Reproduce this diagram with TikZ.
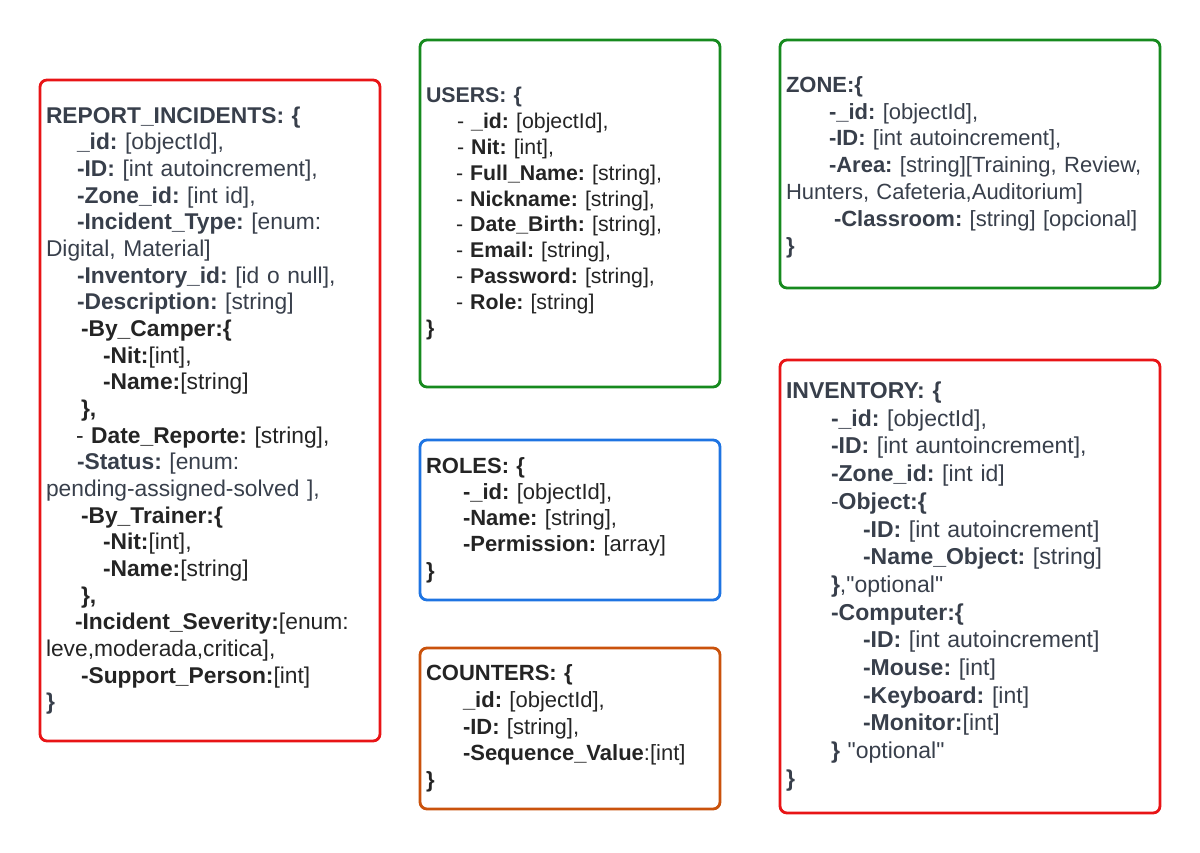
\documentclass[tikz,border=0pt]{standalone}
\usepackage{fontspec}
\setmainfont{Liberation Sans}
\frenchspacing
\definecolor{boxred}{RGB}{232,20,22}
\definecolor{boxgreen}{RGB}{22,138,30}
\definecolor{boxblue}{RGB}{30,116,226}
\definecolor{boxorange}{RGB}{202,82,12}
\definecolor{slate}{RGB}{56,63,75}
\definecolor{ink}{RGB}{36,36,36}
\begin{document}
\begin{tikzpicture}[x=1pt,y=-1pt,
  entity/.style={draw=#1,line width=2.8pt,rounded corners=7pt,align=left,
    inner xsep=6pt,inner ysep=0pt,text=slate}]
\useasboundingbox (0,0) rectangle (1200,853);
% report incidents
\node[entity=boxred,text width=328pt,minimum height=661pt,
  font=\fontsize{22.8}{26.67}\selectfont] (report) at (210,410.5) {%
\textbf{REPORT\_INCIDENTS: \{}\\
\hspace*{31pt}\textbf{\_id:} [objectId],\\
\hspace*{31pt}\textbf{-ID:} [int autoincrement],\\
\hspace*{31pt}\textbf{-Zone\_id:} [int id],\\
\hspace*{31pt}\textbf{-Incident\_Type:} [enum:\\
Digital, Material]\\
\hspace*{31pt}\textbf{-Inventory\_id:} [id o null],\\
\hspace*{31pt}\textbf{-Description:} [string]\\
\textcolor{ink}{\hspace*{35pt}\textbf{-By\_Camper:\{}}\\
\textcolor{ink}{\hspace*{57pt}\textbf{-Nit:}[int],}\\
\textcolor{ink}{\hspace*{57pt}\textbf{-Name:}[string]}\\
\textcolor{ink}{\hspace*{35pt}\textbf{\},}}\\
\textcolor{ink}{\hspace*{30pt}- \textbf{Date\_Reporte:} [string],}\\
\hspace*{31pt}\textbf{-Status:} [enum:\\
pending-assigned-solved ],\\
\textcolor{ink}{\hspace*{35pt}\textbf{-By\_Trainer:\{}}\\
\textcolor{ink}{\hspace*{57pt}\textbf{-Nit:}[int],}\\
\textcolor{ink}{\hspace*{57pt}\textbf{-Name:}[string]}\\
\textcolor{ink}{\hspace*{35pt}\textbf{\},}}\\
\textcolor{ink}{\hspace*{29pt}\textbf{-Incident\_Severity:}[enum:}\\
\textcolor{ink}{leve,moderada,critica],}\\
\textcolor{ink}{\hspace*{35pt}\textbf{-Support\_Person:}[int]}\\
\textbf{\}}};
% users
\node[entity=boxgreen,text width=288pt,minimum height=347pt,
  font=\fontsize{21.3}{25.8}\selectfont] (users) at (570,213.5) {%
\textbf{USERS: \{}\\
\textcolor{ink}{\hspace*{31pt}- \textbf{\_id:} [objectId],}\\
\textcolor{ink}{\hspace*{31pt}- \textbf{Nit:} [int],}\\
\textcolor{ink}{\hspace*{30pt}- \textbf{Full\_Name:} [string],}\\
\textcolor{ink}{\hspace*{30pt}- \textbf{Nickname:} [string],}\\
\textcolor{ink}{\hspace*{30pt}- \textbf{Date\_Birth:} [string],}\\
\textcolor{ink}{\hspace*{30pt}- \textbf{Email:} [string],}\\
\textcolor{ink}{\hspace*{30pt}- \textbf{Password:} [string],}\\
\textcolor{ink}{\hspace*{30pt}- \textbf{Role:} [string]}\\
\textcolor{ink}{\textbf{\}}}};
% roles
\node[entity=boxblue,text width=288pt,minimum height=160pt,text=ink,
  font=\fontsize{22}{26.3}\selectfont] (roles) at (570,520) {%
\textbf{ROLES: \{}\\
\hspace*{37pt}\textbf{-\_id:} [objectId],\\
\hspace*{37pt}\textbf{-Name:} [string],\\
\hspace*{37pt}\textbf{-Permission:} [array]\\
\textbf{\}}};
% counters
\node[entity=boxorange,text width=288pt,minimum height=161pt,text=ink,
  font=\fontsize{22}{26.7}\selectfont] (counters) at (570,728.5) {%
\textbf{COUNTERS: \{}\\
\hspace*{37pt}\textbf{\_id:} [objectId],\\
\hspace*{37pt}\textbf{-ID:} [string],\\
\hspace*{37pt}\textbf{-Sequence\_Value}:[int]\\
\textbf{\}}};
% zone
\node[entity=boxgreen,text width=368pt,minimum height=248pt,
  font=\fontsize{22}{26.8}\selectfont] (zone) at (970,164) {%
\textbf{ZONE:\{}\\
\hspace*{43pt}\textbf{-\_id:} [objectId],\\
\hspace*{43pt}\textbf{-ID:} [int autoincrement],\\
\hspace*{43pt}\textbf{-Area:} [string][Training, Review,\\
Hunters, Cafeteria,Auditorium]\\
\hspace*{48pt}\textbf{-Classroom:} [string] [opcional]\\
\textbf{\}}\par\vspace*{-6pt}};
% inventory
\node[entity=boxred,text width=368pt,minimum height=453pt,
  font=\fontsize{23}{27.7}\selectfont] (inventory) at (970,586.5) {%
\textbf{INVENTORY: \{}\\
\hspace*{45pt}\textbf{-\_id:} [objectId],\\
\hspace*{45pt}\textbf{-ID:} [int auntoincrement],\\
\hspace*{45pt}\textbf{-Zone\_id:} [int id]\\
\hspace*{45pt}-\textbf{Object:\{}\\
\hspace*{77pt}\textbf{-ID:} [int autoincrement]\\
\hspace*{77pt}\textbf{-Name\_Object:} [string]\\
\hspace*{45pt}\textbf{\}},\textquotedbl optional\textquotedbl\\
\hspace*{45pt}\textbf{-Computer:\{}\\
\hspace*{77pt}\textbf{-ID:} [int autoincrement]\\
\hspace*{77pt}\textbf{-Mouse:} [int]\\
\hspace*{77pt}\textbf{-Keyboard:} [int]\\
\hspace*{77pt}\textbf{-Monitor:}[int]\\
\hspace*{45pt}\textbf{\}} \textquotedbl optional\textquotedbl\\
\textbf{\}}};
\end{tikzpicture}
\end{document}
